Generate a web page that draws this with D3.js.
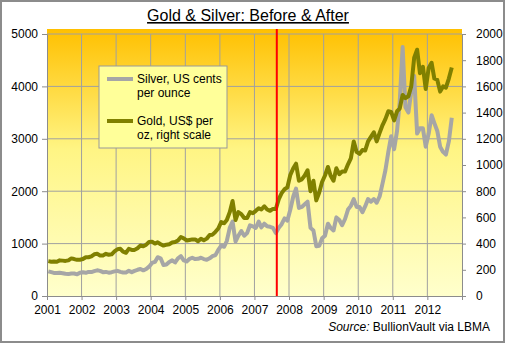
<!DOCTYPE html>
<html>
<head>
<meta charset="utf-8">
<script src="https://cdn.jsdelivr.net/npm/d3@7"></script>
<style>
  body { margin: 0; background: #fff; }
  svg { display: block; font-family: "Liberation Sans", Arial, sans-serif; }
</style>
</head>
<body>
<svg id="chart"></svg>
<script>
// Monthly readings, Jan 2001 .. Sep 2012 (one value per month)
const startMonth = new Date(2001, 0, 15);
const silverCents = [
  470, 455, 440, 437, 442, 435, 424, 418, 430, 430, 414, 445,
  452, 443, 460, 457, 475, 490, 480, 455, 460, 445, 455, 470,
  480, 460, 450, 450, 480, 455, 480, 500, 515, 490, 515, 560,
  630, 650, 740, 720, 590, 600, 650, 680, 640, 720, 760, 680,
  660, 710, 730, 705, 710, 730, 705, 690, 720, 760, 780, 880,
  960, 940, 1050, 1300, 1420, 1040, 1150, 1240, 1150, 1200, 1350, 1330,
  1300, 1420, 1310, 1380, 1330, 1320, 1300, 1200, 1300, 1370, 1480, 1440,
  1650, 1900, 2050, 1680, 1700, 1750, 1800, 1300, 1250, 950, 960, 1100,
  1150, 1380, 1300, 1250, 1500, 1450, 1350, 1470, 1650, 1720, 1850, 1700,
  1700, 1600, 1710, 1850, 1800, 1850, 1780, 1900, 2150, 2400, 2750, 3050,
  2800, 3150, 3700, 4750, 3600, 3500, 3900, 4200, 3100, 3200, 3200, 2850,
  3100, 3450, 3300, 3150, 2850, 2750, 2700, 2950, 3400
];
const goldDollars = [
  266, 262, 263, 261, 272, 270, 268, 272, 287, 282, 276, 277,
  282, 296, 296, 303, 318, 322, 310, 310, 322, 315, 318, 340,
  357, 360, 338, 330, 360, 352, 352, 365, 385, 380, 392, 412,
  415, 400, 410, 395, 385, 392, 395, 408, 412, 424, 450, 440,
  424, 428, 432, 432, 418, 437, 425, 438, 465, 468, 490, 515,
  565, 555, 580, 640, 725, 580, 640, 625, 595, 595, 640, 632,
  650, 670, 660, 685, 660, 650, 665, 665, 740, 785, 815, 830,
  925, 975, 1010, 880, 890, 920, 960, 800, 880, 730, 790, 870,
  920, 985, 920, 880, 975, 930, 950, 950, 1005, 1050, 1180, 1100,
  1085, 1115, 1110, 1180, 1215, 1250, 1180, 1245, 1305, 1350, 1410, 1405,
  1340, 1410, 1430, 1535, 1510, 1525, 1600, 1820, 1880, 1700, 1750, 1580,
  1740, 1780, 1660, 1650, 1560, 1600, 1590, 1660, 1745
];
const yearTicks = d3.range(2001, 2014);
const leftTicks = [0, 1000, 2000, 3000, 4000, 5000];
const rightTicks = [0, 200, 400, 600, 800, 1000, 1200, 1400, 1600, 1800, 2000];
const markerDate = new Date(2007, 7, 25);

class GoldSilver {
    constructor(_config, _data) {
        this.config = {
            parentElement: _config.parentElement,
            containerWidth: _config.containerWidth || 505,
            containerHeight: _config.containerHeight || 345,
            margin: _config.margin || { top: 34, right: 43, bottom: 49, left: 47 }
        }
        this.data = _data;
        this.initVis();
    }

    initVis() {
        let vis = this;

        vis.width = vis.config.containerWidth - vis.config.margin.left - vis.config.margin.right;
        vis.height = vis.config.containerHeight - vis.config.margin.top - vis.config.margin.bottom;

        vis.svg = d3.select(vis.config.parentElement)
            .attr('width', vis.config.containerWidth)
            .attr('height', vis.config.containerHeight);

        // outer frame
        vis.svg.append('rect')
            .attr('x', 1).attr('y', 1)
            .attr('width', vis.config.containerWidth - 2)
            .attr('height', vis.config.containerHeight - 4)
            .attr('fill', '#fff')
            .attr('stroke', '#8c8c8c')
            .attr('stroke-width', 2);

        // title, underlined
        vis.svg.append('text')
            .attr('x', 248)
            .attr('y', 21)
            .attr('text-anchor', 'middle')
            .attr('font-size', '16px')
            .attr('text-decoration', 'underline')
            .text('Gold & Silver: Before & After');

        const grad = vis.svg.append('defs').append('linearGradient')
            .attr('id', 'bg').attr('x1', 0).attr('x2', 0).attr('y1', 0).attr('y2', 1);
        grad.append('stop').attr('offset', '0%').attr('stop-color', '#ffc000');
        grad.append('stop').attr('offset', '45%').attr('stop-color', '#fff584');
        grad.append('stop').attr('offset', '100%').attr('stop-color', '#ffffcc');

        vis.chart = vis.svg.append('g')
            .attr('transform', `translate(${vis.config.margin.left},${vis.config.margin.top})`);

        vis.chart.append('rect')
            .attr('x', 0).attr('y', -5)
            .attr('width', vis.width)
            .attr('height', vis.height + 5)
            .attr('fill', 'url(#bg)');

        vis.xScale = d3.scaleTime()
            .domain([new Date(2001, 0, 1), new Date(2013, 0, 1)])
            .range([0, vis.width]);
        vis.yLeft = d3.scaleLinear().domain([0, 5000]).range([vis.height, 0]);
        vis.yRight = d3.scaleLinear().domain([0, 2000]).range([vis.height, 0]);

        vis.xAxis = d3.axisBottom(vis.xScale)
            .tickValues(yearTicks.map(y => new Date(y, 0, 1)))
            .tickFormat(d => d.getFullYear() < 2013 ? d.getFullYear() : '')
            .tickSize(4).tickPadding(5).tickSizeOuter(0);
        vis.yAxisL = d3.axisLeft(vis.yLeft).tickValues(leftTicks).tickFormat(d3.format('d'))
            .tickSize(5).tickPadding(4).tickSizeOuter(0);
        vis.yAxisR = d3.axisRight(vis.yRight).tickValues(rightTicks).tickFormat(d3.format('d'))
            .tickSize(4).tickPadding(10).tickSizeOuter(0);

        // gridlines
        vis.chart.append('g').selectAll('line.vg')
            .data(yearTicks.slice(1, -1))
            .join('line')
            .attr('x1', d => vis.xScale(new Date(d, 0, 1)))
            .attr('x2', d => vis.xScale(new Date(d, 0, 1)))
            .attr('y1', 0).attr('y2', vis.height)
            .attr('stroke', '#a0a0a0');
        vis.chart.append('g').selectAll('line.hg')
            .data(leftTicks.slice(1))
            .join('line')
            .attr('x1', 0).attr('x2', vis.width)
            .attr('y1', d => vis.yLeft(d)).attr('y2', d => vis.yLeft(d))
            .attr('stroke', '#a0a0a0');

        vis.xAxisG = vis.chart.append('g').attr('class', 'axis x-axis')
            .attr('transform', `translate(0,${vis.height})`);
        vis.yAxisLG = vis.chart.append('g').attr('class', 'axis y-axis');
        vis.yAxisRG = vis.chart.append('g').attr('class', 'axis y-axis')
            .attr('transform', `translate(${vis.width},0)`);

        vis.linesG = vis.chart.append('g');

        vis.updateVis();
    }

    updateVis() {
        let vis = this;
        vis.xValue = d => d.date;
        vis.silverLine = d3.line()
            .x(d => vis.xScale(vis.xValue(d)))
            .y(d => vis.yLeft(d.silver));
        vis.goldLine = d3.line()
            .x(d => vis.xScale(vis.xValue(d)))
            .y(d => vis.yRight(d.gold));
        vis.renderVis();
    }

    renderVis() {
        let vis = this;

        vis.linesG.append('path')
            .datum(vis.data)
            .attr('d', vis.silverLine)
            .attr('fill', 'none')
            .attr('stroke', '#a6a6a6')
            .attr('stroke-width', 4)
            .attr('stroke-linejoin', 'round');

        vis.linesG.append('path')
            .datum(vis.data)
            .attr('d', vis.goldLine)
            .attr('fill', 'none')
            .attr('stroke', '#808000')
            .attr('stroke-width', 4)
            .attr('stroke-linejoin', 'round');

        // credit crunch marker
        vis.linesG.append('line')
            .attr('x1', vis.xScale(markerDate)).attr('x2', vis.xScale(markerDate))
            .attr('y1', -5).attr('y2', vis.height)
            .attr('stroke', '#ff0000')
            .attr('stroke-width', 2);

        vis.xAxisG.call(vis.xAxis);
        vis.yAxisLG.call(vis.yAxisL);
        vis.yAxisRG.call(vis.yAxisR);

        vis.chart.selectAll('.axis path, .axis line').attr('stroke', '#8c8c8c');
        vis.chart.selectAll('.axis text')
            .attr('font-size', '12px')
            .attr('font-family', '"Liberation Sans", Arial, sans-serif')
            .attr('fill', '#000');
        vis.yAxisRG.selectAll('text').attr('text-anchor', 'start');

        // legend
        const lg = vis.svg.append('g').attr('transform', 'translate(99,66)');
        lg.append('rect')
            .attr('width', 128).attr('height', 82)
            .attr('fill', '#ffff99')
            .attr('stroke', '#999')
            .attr('stroke-width', 1);
        const items = [
            { color: '#a6a6a6', y: 13, lines: ['Silver, US cents', 'per ounce'] },
            { color: '#808000', y: 55, lines: ['Gold, US$ per', 'oz, right scale'] }
        ];
        items.forEach(it => {
            lg.append('line')
                .attr('x1', 8).attr('x2', 34)
                .attr('y1', it.y).attr('y2', it.y)
                .attr('stroke', it.color)
                .attr('stroke-width', 4);
            const t = lg.append('text')
                .attr('x', 38).attr('y', it.y + 4)
                .attr('font-size', '12px');
            it.lines.forEach((s, i) => {
                t.append('tspan').attr('x', 38).attr('dy', i ? 14 : 0).text(s);
            });
        });

        // source note
        const src = vis.svg.append('text')
            .attr('x', 490).attr('y', 331)
            .attr('text-anchor', 'end')
            .attr('font-size', '12px');
        src.append('tspan').attr('font-style', 'italic').text('Source:');
        src.append('tspan').text(' BullionVault via LBMA');
    }
}

const data = silverCents.map((s, i) => ({
    date: d3.timeMonth.offset(startMonth, i),
    silver: s,
    gold: goldDollars[i]
}));

new GoldSilver({ parentElement: '#chart' }, data);
</script>
</body>
</html>
